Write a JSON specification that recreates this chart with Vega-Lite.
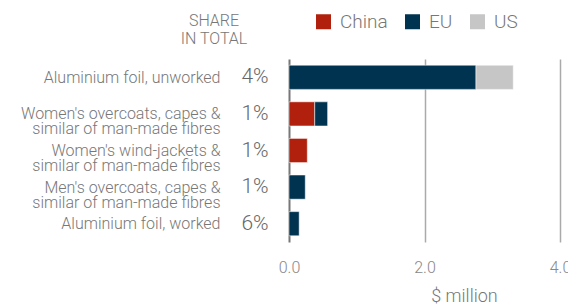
{
  "$schema": "https://vega.github.io/schema/vega-lite/v6.json",
  "autosize": {"type": "pad"},
  "padding": {"left": 20, "top": 12, "right": 0, "bottom": 0},
  "background": "white",
  "config": {
    "font": "Roboto",
    "view": {"stroke": null},
    "concat": {"spacing": -4}
  },
  "datasets": {
    "bars": [
      {"product": "Aluminium foil, unworked", "region": "EU", "value": 2.76},
      {"product": "Aluminium foil, unworked", "region": "US", "value": 0.55},
      {"product": "Women's overcoats, capes &|similar of man-made fibres", "region": "China", "value": 0.38},
      {"product": "Women's overcoats, capes &|similar of man-made fibres", "region": "EU", "value": 0.19},
      {"product": "Women's wind-jackets &|similar of man-made fibres", "region": "China", "value": 0.27},
      {"product": "Men's overcoats, capes &|similar of man-made fibres", "region": "EU", "value": 0.24},
      {"product": "Aluminium foil, worked", "region": "EU", "value": 0.15}
    ],
    "shares": [
      {"product": "Aluminium foil, unworked", "share": "4%"},
      {"product": "Women's overcoats, capes &|similar of man-made fibres", "share": "1%"},
      {"product": "Women's wind-jackets &|similar of man-made fibres", "share": "1%"},
      {"product": "Men's overcoats, capes &|similar of man-made fibres", "share": "1%"},
      {"product": "Aluminium foil, worked", "share": "6%"}
    ]
  },
  "hconcat": [
    {
      "width": 54,
      "height": 183,
      "data": {"name": "shares"},
      "title": {
        "text": ["SHARE", "IN TOTAL"],
        "anchor": "middle",
        "dx": -41,
        "offset": 12,
        "fontSize": 16,
        "fontWeight": 300,
        "lineHeight": 18,
        "color": "#777777",
        "font": "Roboto"
      },
      "mark": {"type": "text", "fontSize": 21, "fontWeight": 300, "color": "#666666", "align": "center", "baseline": "middle", "font": "Roboto"},
      "encoding": {
        "y": {
          "field": "product",
          "type": "nominal",
          "sort": null,
          "scale": {"paddingInner": 0.34, "paddingOuter": 0.17},
          "axis": {
            "title": null,
            "domain": false,
            "ticks": false,
            "labelPadding": 8,
            "labelFontSize": 16,
            "labelFontWeight": 300,
            "labelColor": "#777777",
            "labelLineHeight": 15,
            "labelLimit": 300,
            "labelFont": "Roboto",
            "labelExpr": "split(datum.label, '|')"
          }
        },
        "text": {"field": "share", "type": "nominal"}
      }
    },
    {
      "width": 271,
      "height": 183,
      "data": {"name": "bars"},
      "mark": {"type": "bar", "stroke": "white", "strokeWidth": 0.5},
      "encoding": {
        "y": {
          "field": "product",
          "type": "nominal",
          "sort": null,
          "scale": {"paddingInner": 0.34, "paddingOuter": 0.17},
          "axis": null
        },
        "x": {
          "field": "value",
          "type": "quantitative",
          "stack": "zero",
          "scale": {"domain": [0, 4], "nice": false},
          "axis": {
            "title": "$ million",
            "titleX": 175,
            "titleFontSize": 18,
            "titleFontWeight": 300,
            "titleColor": "#777777",
            "titlePadding": 12,
            "titleFont": "Roboto",
            "values": [0, 2, 4],
            "format": ".1f",
            "domain": false,
            "ticks": false,
            "grid": true,
            "gridColor": {"condition": {"test": "datum.value === 0", "value": "#777777"}, "value": "#aaaaaa"},
            "gridWidth": {"condition": {"test": "datum.value === 0", "value": 2}, "value": 1.5},
            "labelPadding": 17,
            "labelFontSize": 16,
            "labelFontWeight": 300,
            "labelColor": "#888888",
            "labelFont": "Roboto",
            "labelFlush": false
          }
        },
        "color": {
          "field": "region",
          "type": "nominal",
          "scale": {"domain": ["China", "EU", "US"], "range": ["#B0200C", "#00334F", "#C6C6C6"]},
          "legend": {
            "title": null,
            "orient": "none",
            "direction": "horizontal",
            "legendX": 86,
            "legendY": -47,
            "symbolType": "square",
            "symbolSize": 225,
            "symbolStrokeWidth": 0,
            "symbolOpacity": 1,
            "labelFontSize": 19,
            "labelFontWeight": 300,
            "labelColor": "#777777",
            "labelFont": "Roboto",
            "labelOffset": 7,
            "columnPadding": 15
          }
        },
        "order": {"field": "region", "type": "nominal"}
      }
    }
  ]
}
